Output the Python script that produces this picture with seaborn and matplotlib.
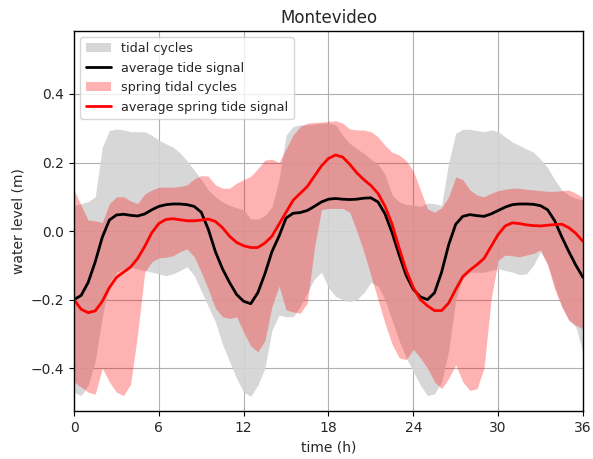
import numpy as np
import pandas as pd
import matplotlib
matplotlib.use("Agg")
import matplotlib.pyplot as plt
import seaborn as sns

# tiempo (h), cada media hora
hours = np.arange(0, 36.5, 0.5)

avg_tide = [-0.200, -0.188, -0.150, -0.090, -0.018, 0.032, 0.047, 0.049, 0.046, 0.044,
            0.050, 0.062, 0.072, 0.077, 0.079, 0.079, 0.077, 0.072, 0.055, 0.005,
            -0.060, -0.110, -0.150, -0.185, -0.205, -0.212, -0.180, -0.125, -0.060, -0.015,
            0.038, 0.052, 0.054, 0.060, 0.072, 0.085, 0.093, 0.095, 0.093, 0.092,
            0.093, 0.096, 0.097, 0.085, 0.050, -0.005, -0.070, -0.130, -0.170, -0.192,
            -0.200, -0.180, -0.120, -0.040, 0.020, 0.043, 0.048, 0.045, 0.043, 0.050,
            0.060, 0.070, 0.077, 0.079, 0.079, 0.078, 0.074, 0.062, 0.030, -0.017,
            -0.060, -0.100, -0.135]

avg_spring = [-0.200, -0.228, -0.238, -0.233, -0.205, -0.165, -0.135, -0.120, -0.105, -0.080,
              -0.045, -0.005, 0.022, 0.034, 0.036, 0.033, 0.030, 0.030, 0.032, 0.035,
              0.028, 0.010, -0.015, -0.033, -0.043, -0.048, -0.048, -0.035, -0.015, 0.020,
              0.055, 0.090, 0.110, 0.130, 0.160, 0.190, 0.212, 0.222, 0.216, 0.195,
              0.170, 0.150, 0.133, 0.110, 0.072, 0.020, -0.050, -0.115, -0.165, -0.200,
              -0.218, -0.232, -0.232, -0.210, -0.170, -0.133, -0.114, -0.098, -0.080, -0.045,
              -0.010, 0.015, 0.024, 0.022, 0.018, 0.016, 0.015, 0.017, 0.019, 0.020,
              0.010, -0.007, -0.030]

tidal_hi = [0.075, 0.080, 0.086, 0.100, 0.245, 0.293, 0.298, 0.295, 0.290, 0.290,
            0.290, 0.280, 0.265, 0.255, 0.245, 0.228, 0.205, 0.178, 0.150, 0.120,
            0.100, 0.085, 0.075, 0.068, 0.062, 0.035, 0.035, 0.045, 0.070, 0.150,
            0.280, 0.305, 0.310, 0.310, 0.312, 0.315, 0.315, 0.310, 0.280, 0.256,
            0.240, 0.227, 0.210, 0.195, 0.165, 0.105, 0.085, 0.078, 0.076, 0.072,
            0.082, 0.080, 0.075, 0.200, 0.285, 0.297, 0.297, 0.293, 0.290, 0.295,
            0.290, 0.275, 0.260, 0.250, 0.240, 0.230, 0.210, 0.185, 0.150, 0.120,
            0.105, 0.095, 0.090]

tidal_lo = [-0.470, -0.480, -0.450, -0.380, -0.250, -0.150, -0.120, -0.110, -0.105, -0.110,
            -0.115, -0.120, -0.125, -0.130, -0.125, -0.115, -0.104, -0.130, -0.175, -0.220,
            -0.265, -0.330, -0.380, -0.430, -0.470, -0.482, -0.450, -0.400, -0.290, -0.245,
            -0.250, -0.250, -0.220, -0.180, -0.140, -0.120, -0.165, -0.190, -0.200, -0.206,
            -0.200, -0.180, -0.150, -0.160, -0.200, -0.260, -0.320, -0.370, -0.410, -0.450,
            -0.480, -0.475, -0.440, -0.350, -0.200, -0.135, -0.120, -0.120, -0.120, -0.115,
            -0.110, -0.115, -0.120, -0.127, -0.125, -0.100, -0.060, -0.095, -0.160, -0.220,
            -0.260, -0.280, -0.355]

spring_hi = [0.120, 0.075, 0.032, 0.030, 0.025, 0.080, 0.100, 0.100, 0.088, 0.080,
             0.108, 0.120, 0.128, 0.128, 0.128, 0.130, 0.135, 0.152, 0.162, 0.160,
             0.135, 0.125, 0.125, 0.140, 0.150, 0.160, 0.182, 0.207, 0.210, 0.200,
             0.240, 0.280, 0.305, 0.315, 0.317, 0.318, 0.320, 0.322, 0.315, 0.298,
             0.295, 0.295, 0.290, 0.275, 0.250, 0.230, 0.222, 0.205, 0.175, 0.120,
             0.065, 0.055, 0.068, 0.100, 0.158, 0.150, 0.120, 0.105, 0.100, 0.110,
             0.118, 0.122, 0.125, 0.125, 0.122, 0.120, 0.118, 0.116, 0.116, 0.118,
             0.120, 0.110, 0.098]

spring_lo = [-0.440, -0.455, -0.470, -0.476, -0.400, -0.440, -0.470, -0.480, -0.447, -0.300,
             -0.120, -0.090, -0.078, -0.076, -0.072, -0.060, -0.052, -0.075, -0.120, -0.170,
             -0.225, -0.250, -0.255, -0.250, -0.295, -0.335, -0.352, -0.320, -0.220, -0.160,
             -0.230, -0.236, -0.240, -0.210, -0.050, 0.062, 0.066, 0.066, 0.066, 0.055,
             0.000, -0.060, -0.130, -0.200, -0.270, -0.330, -0.370, -0.375, -0.345, -0.370,
             -0.400, -0.440, -0.460, -0.430, -0.390, -0.440, -0.465, -0.460, -0.400, -0.200,
             -0.085, -0.070, -0.072, -0.075, -0.070, -0.065, -0.055, -0.100, -0.170, -0.220,
             -0.260, -0.275, -0.285]

df = pd.DataFrame({
    "hours": hours,
    "avg_tide": avg_tide,
    "avg_spring": avg_spring,
    "tidal_hi": tidal_hi,
    "tidal_lo": tidal_lo,
    "spring_hi": spring_hi,
    "spring_lo": spring_lo,
})

sns.set_style("ticks")
plt.rcParams["font.family"] = ["DejaVu Sans"]

fig = plt.figure(figsize=(5.93, 4.59), dpi=100)
ax = fig.add_axes([0.1248, 0.1046, 0.8583, 0.828])

ax.fill_between(df["hours"], df["tidal_lo"], df["tidal_hi"],
                color="lightgray", alpha=0.9, lw=0, label="tidal cycles")
sns.lineplot(data=df, x="hours", y="avg_tide", color="black", lw=2,
             label="average tide signal", ax=ax)
ax.fill_between(df["hours"], df["spring_lo"], df["spring_hi"],
                color="red", alpha=0.3, lw=0, label="spring tidal cycles")
sns.lineplot(data=df, x="hours", y="avg_spring", color="red", lw=2,
             label="average spring tide signal", ax=ax)

ax.set_xlim(0, 36)
ax.set_ylim(-0.525, 0.584)
ax.set_xticks([0, 6, 12, 18, 24, 30, 36])
ax.set_yticks([-0.4, -0.2, 0.0, 0.2, 0.4])
ax.grid(True, color="#b0b0b0", lw=0.8)
for s in ax.spines.values():
    s.set_color("black")
    s.set_linewidth(1)
ax.tick_params(labelsize=10, color="black", length=3.5)

ax.set_title("Montevideo", fontsize=12)
ax.set_xlabel("time (h)", fontsize=10)
ax.set_ylabel("water level (m)", fontsize=10)
ax.legend(loc="upper left", fontsize=9.2, frameon=True)

fig.savefig("out.png", dpi=100)
